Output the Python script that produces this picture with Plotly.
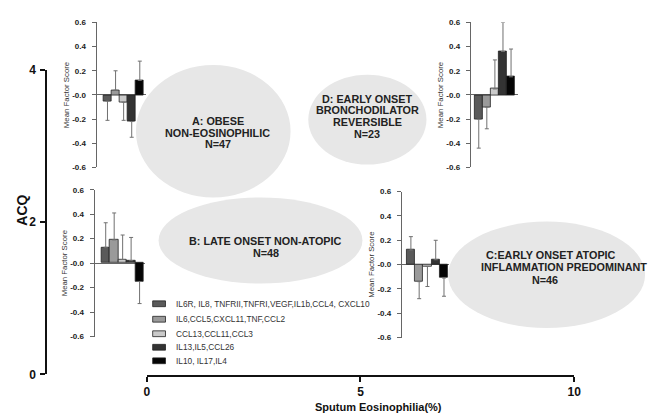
import plotly.graph_objects as go

W, H = 657, 420

# ---------------- data ----------------
factors = [
    "IL6R, IL8, TNFRII,TNFRI,VEGF,IL1b,CCL4, CXCL10",
    "IL6,CCL5,CXCL11,TNF,CCL2",
    "CCL13,CCL11,CCL3",
    "IL13,IL5,CCL26",
    "IL10, IL17,IL4",
]
factor_colors = ["#5a5a5a", "#9a9a9a", "#cacaca", "#333333", "#050505"]

# mean factor scores and SEM per cluster
values_A = [-0.05, 0.04, -0.06, -0.22, 0.12]
errors_A = [0.16, 0.16, 0.15, 0.13, 0.16]
values_D = [-0.20, -0.10, 0.05, 0.36, 0.15]
errors_D = [0.24, 0.18, 0.24, 0.24, 0.23]
values_B = [0.13, 0.19, 0.03, 0.02, -0.15]
errors_B = [0.20, 0.22, 0.20, 0.19, 0.18]
values_C = [0.12, -0.14, -0.015, 0.04, -0.11]
errors_C = [0.11, 0.14, 0.165, 0.16, 0.15]

inset_ticks = [-0.6, -0.4, -0.2, 0.0, 0.2, 0.4, 0.6]
inset_ticktext = ["-0.6", "-0.4", "-0.2", "-0.0", "0.2", "0.4", "0.6"]

acq_ticks = [0, 2, 4]
eos_ticks = [0, 5, 10]

cluster_A_lines = ["A: OBESE", "NON-EOSINOPHILIC", "N=47"]
cluster_D_lines = ["D: EARLY ONSET", "BRONCHODILATOR", "REVERSIBLE", "N=23"]
cluster_B_lines = ["B: LATE ONSET NON-ATOPIC", "N=48"]
cluster_C_lines = ["C:EARLY ONSET ATOPIC", "INFLAMMATION PREDOMINANT", "N=46"]


def px(x):
    return x / W


def py(y):
    return 1 - y / H


fig = go.Figure()

# main axes (empty frame)
fig.add_trace(go.Scatter(x=[], y=[], xaxis="x", yaxis="y", showlegend=False))

FONT = "Liberation Sans, Arial, sans-serif"

fig.update_layout(
    width=W, height=H,
    margin=dict(l=0, r=0, t=0, b=0),
    paper_bgcolor="white", plot_bgcolor="rgba(0,0,0,0)",
    showlegend=False, bargap=0,
    font=dict(family=FONT, color="#222"),
    xaxis=dict(
        domain=[px(146), px(580)], range=[0, 10], anchor="free", position=py(382),
        showline=True, linewidth=2, linecolor="#111", ticks="outside", ticklen=5,
        tickwidth=2, tickcolor="#111", tickvals=eos_ticks, showgrid=False, zeroline=False,
        ticklabelstandoff=-1,
        tickfont=dict(size=12, weight="bold", color="#111"),
    ),
    yaxis=dict(
        domain=[py(380), py(65)], range=[0, 4], anchor="free", position=px(44),
        showline=True, linewidth=2, linecolor="#111", ticks="outside", ticklen=5,
        tickwidth=2, tickcolor="#111", tickvals=acq_ticks, showgrid=False, zeroline=False,
        ticklabelstandoff=2,
        tickfont=dict(size=12, weight="bold", color="#111"),
    ),
)

# inset geometry: (axis x px, zero-line end px, first bar px, last bar px, y top px, y bottom px)
insets = [
    (values_A, errors_A, (95, 145, 102, 143, 16, 166)),
    (values_D, errors_D, (475, 523, 479, 520, 16, 166)),
    (values_B, errors_B, (93, 144, 100, 143, 189, 341)),
    (values_C, errors_C, (405, 453, 410, 452, 191, 342)),
]

for i, (vals, errs, geo) in enumerate(insets, start=2):
    a, b, s, e, yt, yb = geo
    unit = (e - s) / len(vals)
    r0 = -0.5 - (s - a) / unit
    r1 = len(vals) - 0.5 + (b - e) / unit
    plus = [er if v >= 0 else 0 for v, er in zip(vals, errs)]
    minus = [er if v < 0 else 0 for v, er in zip(vals, errs)]
    fig.add_trace(go.Bar(
        x=factors, y=vals, xaxis=f"x{i}", yaxis=f"y{i}",
        marker=dict(color=factor_colors, line=dict(color="#222", width=0.8)),
        error_y=dict(type="data", symmetric=False, array=plus, arrayminus=minus,
                     color="#707070", thickness=1, width=2),
        showlegend=False,
    ))
    fig.update_layout(**{
        f"xaxis{i}": dict(domain=[px(a), px(b)], range=[r0, r1], type="category",
                          anchor=f"y{i}", visible=False),
        f"yaxis{i}": dict(domain=[py(yb), py(yt)], range=[-0.6, 0.6], anchor=f"x{i}",
                          showline=True, linewidth=1, linecolor="#666",
                          ticks="outside", ticklen=4, tickcolor="#666",
                          tickvals=inset_ticks, ticktext=inset_ticktext,
                          ticklabelstandoff=4,
                          tickfont=dict(size=8, weight="bold", color="#222"),
                          showgrid=False, zeroline=True, zerolinecolor="#666",
                          zerolinewidth=1,
                          title=dict(text="Mean Factor Score", standoff=1,
                                     font=dict(size=7.8, color="#333"))),
    })

# cluster ellipses
ellipses = [(135, 60, 292, 197), (310, 70, 430, 163), (158, 197, 365, 286), (452, 222, 652, 332)]
for x0, y0, x1, y1 in ellipses:
    fig.add_shape(type="circle", xref="paper", yref="paper",
                  x0=px(x0), x1=px(x1), y0=py(y1), y1=py(y0),
                  fillcolor="#e7e7e7", line=dict(width=0), layer="below")

TF = dict(size=10.8, color="#222", weight="bold", family=FONT)


def text_block(lines, x, ys, xanchor="center"):
    for t, y in zip(lines, ys):
        fig.add_annotation(text=t, x=px(x), y=py(y), xref="paper", yref="paper",
                           showarrow=False, xanchor=xanchor, yanchor="middle", font=TF)


text_block(cluster_A_lines, 218, [118, 130, 142])
text_block(cluster_D_lines, 370, [95, 107, 119, 131])
text_block(cluster_B_lines, 267, [242, 254])
text_block(cluster_C_lines[:1], 488, [257], "left")
text_block(cluster_C_lines[1:2], 483, [269], "left")
text_block(cluster_C_lines[2:], 550, [282])

# legend (manual)
rows = [307, 323, 338, 352, 366]
for lab, col, y in zip(factors, factor_colors, rows):
    fig.add_shape(type="rect", xref="paper", yref="paper",
                  x0=px(152), x1=px(165), y0=py(y + 3), y1=py(y - 3),
                  fillcolor=col, line=dict(color="#222", width=0.8))
    fig.add_annotation(text=lab, x=px(174), y=py(y), xref="paper", yref="paper",
                       showarrow=False, xanchor="left", yanchor="middle",
                       font=dict(size=8.3, color="#333", family=FONT))

# axis titles
fig.add_annotation(text="ACQ", x=px(19), y=py(210), xref="paper", yref="paper",
                   showarrow=False, textangle=-90, xanchor="center", yanchor="middle",
                   font=dict(size=14, weight="bold", color="#111", family=FONT))
fig.add_annotation(text="Sputum Eosinophilia(%)", x=px(381), y=py(414), xref="paper",
                   yref="paper", showarrow=False, xanchor="center", yanchor="middle",
                   font=dict(size=11, weight="bold", color="#111", family=FONT))

fig.write_html(
    "out.html",
    config={"displayModeBar": False},
    post_script="document.body.style.margin='0';document.body.style.overflow='hidden';",
)
